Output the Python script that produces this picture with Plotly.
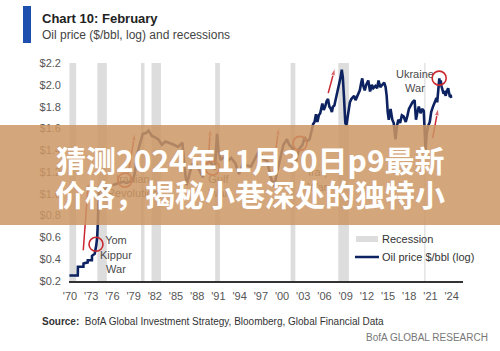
import plotly.graph_objects as go

# ---------------- data ----------------
years = [1969.92, 1971.10, 1971.12, 1971.90, 1971.92, 1972.50, 1972.52, 1973.10, 1973.12, 1973.50,
         1973.70, 1973.85, 1973.95, 1974.05, 1974.20, 1974.60, 1975.00, 1975.50, 1976.00, 1976.50,
         1977.00, 1977.50, 1978.00, 1978.50, 1978.90, 1979.20, 1979.50, 1979.90, 1980.30, 1980.80,
         1981.10, 1981.60, 1982.00, 1982.50, 1983.00, 1983.50, 1984.00, 1984.70, 1985.30, 1985.90,
         1986.20, 1986.50, 1986.90, 1987.30, 1987.80, 1988.30, 1988.80, 1989.20, 1989.80, 1990.30,
         1990.50, 1990.80, 1991.00, 1991.30, 1991.80, 1992.30, 1992.80, 1993.40, 1993.90, 1994.50,
         1995.00, 1995.60, 1996.20, 1996.80, 1997.30, 1997.90, 1998.40, 1998.90, 1999.30, 1999.80,
         2000.20, 2000.70, 2001.00, 2001.50, 2001.90, 2002.40, 2002.90, 2003.20, 2003.50, 2003.90,
         2004.20, 2004.40, 2004.60, 2004.80, 2005.00, 2005.20, 2005.40, 2005.60, 2005.70, 2005.90,
         2006.10, 2006.30, 2006.50, 2006.70, 2006.90, 2007.05, 2007.20, 2007.40, 2007.60, 2007.80,
         2007.95, 2008.10, 2008.25, 2008.45, 2008.60, 2008.75, 2008.95, 2009.10, 2009.25, 2009.45,
         2009.60, 2009.80, 2010.00, 2010.20, 2010.40, 2010.60, 2010.80, 2011.00, 2011.20, 2011.35,
         2011.50, 2011.70, 2011.90, 2012.20, 2012.45, 2012.70, 2012.90, 2013.20, 2013.45, 2013.65,
         2013.90, 2014.15, 2014.45, 2014.65, 2014.80, 2014.95, 2015.10, 2015.35, 2015.60, 2015.80,
         2016.05, 2016.25, 2016.45, 2016.70, 2016.95, 2017.20, 2017.50, 2017.75, 2017.95, 2018.20,
         2018.45, 2018.75, 2018.95, 2019.15, 2019.35, 2019.60, 2019.85, 2020.05, 2020.15, 2020.30,
         2020.45, 2020.65, 2020.90, 2021.10, 2021.35, 2021.60, 2021.85, 2021.95, 2022.10, 2022.25,
         2022.35, 2022.45, 2022.55, 2022.70, 2022.85, 2023.00, 2023.15, 2023.30, 2023.50, 2023.62,
         2023.75, 2023.85, 2023.92]
oil_log = [0.25, 0.25, 0.33, 0.33, 0.36, 0.37, 0.39, 0.39, 0.43, 0.45,
           0.52, 0.60, 0.75, 0.98, 1.06, 1.05, 1.04, 1.06, 1.08, 1.09,
           1.10, 1.11, 1.10, 1.11, 1.12, 1.20, 1.36, 1.46, 1.55, 1.56,
           1.58, 1.53, 1.52, 1.50, 1.45, 1.48, 1.47, 1.45, 1.43, 1.47,
           1.25, 1.08, 1.18, 1.27, 1.28, 1.22, 1.15, 1.27, 1.30, 1.25,
           1.22, 1.55, 1.40, 1.31, 1.34, 1.30, 1.33, 1.28, 1.18, 1.28,
           1.26, 1.25, 1.33, 1.40, 1.32, 1.30, 1.15, 1.07, 1.20, 1.35,
           1.45, 1.50, 1.45, 1.42, 1.28, 1.41, 1.45, 1.52, 1.48, 1.50,
           1.58, 1.64, 1.66, 1.73, 1.66, 1.72, 1.74, 1.80, 1.83, 1.77,
           1.80, 1.85, 1.87, 1.80, 1.78, 1.75, 1.80, 1.81, 1.87, 1.92,
           1.97, 1.99, 2.06, 2.14, 2.07, 1.90, 1.65, 1.63, 1.69, 1.80,
           1.84, 1.87, 1.89, 1.90, 1.86, 1.89, 1.92, 1.95, 2.02, 2.06,
           1.99, 1.95, 2.00, 2.04, 1.94, 2.00, 1.97, 1.99, 1.97, 2.04,
           1.98, 2.00, 2.02, 1.98, 1.90, 1.75, 1.68, 1.78, 1.68, 1.65,
           1.50, 1.62, 1.68, 1.65, 1.72, 1.71, 1.66, 1.72, 1.78, 1.81,
           1.84, 1.86, 1.68, 1.75, 1.80, 1.74, 1.78, 1.76, 1.62, 1.40,
           1.55, 1.62, 1.66, 1.75, 1.80, 1.85, 1.88, 1.84, 1.95, 2.06,
           2.00, 2.04, 1.99, 1.95, 1.92, 1.93, 1.90, 1.94, 1.97, 1.93,
           1.89, 1.91, 1.88]

recession_start = [1969.92, 1973.87, 1980.04, 1981.54, 1990.54, 2001.21, 2007.96, 2020.12]
recession_end = [1970.87, 1975.21, 1980.54, 1982.87, 1991.21, 2001.88, 2009.46, 2020.29]

x_tick_years = [1970, 1973, 1976, 1979, 1982, 1985, 1988, 1991, 1994, 1997,
                2000, 2003, 2006, 2009, 2012, 2015, 2018, 2021, 2024]
x_tick_text = ["'70", "'73", "'76", "'79", "'82", "'85", "'88", "'91", "'94", "'97",
               "'00", "'03", "'06", "'09", "'12", "'15", "'18", "'21", "'24"]
y_tick_vals = [0.2, 0.4, 0.6, 0.8, 1.0, 1.2, 1.4, 1.6, 1.8, 2.0, 2.2]
y_tick_text = ["$0.2", "$0.4", "$0.6", "$0.8", "$1.0", "$1.2", "$1.4", "$1.6", "$1.8", "$2.0", "$2.2"]

# event markers (circles)
event_circle_x = [1973.68, 1977.78, 1990.16, 2002.53, 2022.23]
event_circle_y = [0.536, 1.125, 1.236, 1.463, 2.062]
# event labels
event_labels = ["Yom<br>Kippur<br>War", "Iranian<br>Revolution", "Gulf<br>War", "Iraq<br>War", "Ukraine<br>War"]
event_label_x = [1976.5, 1978.9, 1991.0, 2005.0, 2018.8]
event_label_y = [0.43, 1.06, 1.06, 1.12, 2.025]
# red arrows (tail -> head)
arrow_x0 = [1971.88, 1978.25, 1989.66, 1999.15, 2006.53, 2021.30]
arrow_y0 = [0.481, 1.19, 1.40, 1.42, 1.924, 1.51]
arrow_x1 = [1972.59, 1979.19, 1989.87, 1999.55, 2007.48, 2022.09]
arrow_y1 = [1.107, 1.558, 1.60, 1.61, 2.154, 1.786]

# ---------------- layout helpers ----------------
W, H = 500, 351
L, R, T, B = 69, 37, 63, 70
PW, PH = W - L - R, H - T - B


def px_x(p):
    return (p - L) / PW


def px_y(p):
    return (H - B - p) / PH


FONT = "Liberation Sans, Arial, sans-serif"
NAVY = "#0d2260"
RED = "#c8282e"

fig = go.Figure()

# oil price line
fig.add_trace(go.Scatter(x=years, y=oil_log, mode="lines",
                         line=dict(color=NAVY, width=2.6), hoverinfo="skip",
                         showlegend=False))

# arrows
for xa, ya, xb, yb in zip(arrow_x0, arrow_y0, arrow_x1, arrow_y1):
    fig.add_trace(go.Scatter(x=[xa, xb], y=[ya, yb], mode="lines+markers",
                             line=dict(color=RED, width=1.5),
                             marker=dict(symbol=["circle", "arrow"], size=[0, 8],
                                         color=RED, angleref="previous"),
                             hoverinfo="skip", showlegend=False))

# event labels
fig.add_trace(go.Scatter(x=event_label_x, y=event_label_y, mode="text",
                         text=event_labels,
                         textfont=dict(family=FONT, size=11, color="#4a4a4a"),
                         hoverinfo="skip", showlegend=False))

shapes = []
for s, e in zip(recession_start, recession_end):
    shapes.append(dict(type="rect", xref="x", yref="y", x0=s, x1=e, y0=0.2, y1=2.2,
                       fillcolor="#dddddd", line=dict(width=0), layer="below"))
for cx, cy in zip(event_circle_x, event_circle_y):
    shapes.append(dict(type="circle", xref="x", yref="y", xsizemode="pixel", ysizemode="pixel",
                       xanchor=cx, yanchor=cy, x0=-7, x1=7, y0=-7, y1=7,
                       line=dict(color=RED, width=1.6), layer="above"))

# legend
shapes.append(dict(type="rect", xref="paper", yref="paper", x0=px_x(356), x1=px_x(378),
                   y0=px_y(242), y1=px_y(236), fillcolor="#dddddd", line=dict(width=0)))
shapes.append(dict(type="line", xref="paper", yref="paper", x0=px_x(355), x1=px_x(379),
                   y0=px_y(257), y1=px_y(257), line=dict(color=NAVY, width=2.5)))
# title bar
shapes.append(dict(type="rect", xref="paper", yref="paper", x0=px_x(23), x1=px_x(31),
                   y0=px_y(43), y1=px_y(6), fillcolor="#1d4fae", line=dict(width=0)))
# banner overlay
shapes.append(dict(type="rect", xref="paper", yref="paper", x0=px_x(-2), x1=px_x(502),
                   y0=px_y(225), y1=px_y(125), fillcolor="rgba(205,150,100,0.85)",
                   line=dict(width=0), layer="above"))

annotations = [
    dict(text="<b>Chart 10: February</b>", x=px_x(40), y=px_y(18), xref="paper", yref="paper",
         xanchor="left", yanchor="middle", showarrow=False,
         font=dict(family=FONT, size=13, color="#222222")),
    dict(text="Oil price ($/bbl, log) and recessions", x=px_x(40), y=px_y(35), xref="paper",
         yref="paper", xanchor="left", yanchor="middle", showarrow=False,
         font=dict(family=FONT, size=12, color="#444444")),
    dict(text="Recession", x=px_x(380), y=px_y(239), xref="paper", yref="paper",
         xanchor="left", yanchor="middle", showarrow=False,
         font=dict(family=FONT, size=11, color="#333333")),
    dict(text="Oil price $/bbl (log)", x=px_x(380), y=px_y(257), xref="paper", yref="paper",
         xanchor="left", yanchor="middle", showarrow=False,
         font=dict(family=FONT, size=11, color="#333333")),
    dict(text="<b>Source:</b>  BofA Global Investment Strategy, Bloomberg, Global Financial Data",
         x=px_x(40), y=px_y(321), xref="paper", yref="paper", xanchor="left", yanchor="middle",
         showarrow=False, font=dict(family=FONT, size=10, color="#333333")),
    dict(text="BofA GLOBAL RESEARCH", x=px_x(490), y=px_y(337), xref="paper", yref="paper",
         xanchor="right", yanchor="middle", showarrow=False,
         font=dict(family=FONT, size=10, color="#777777")),
    dict(text="<b>猜测2024年11月30日p9最新</b>", x=px_x(250), y=px_y(159), xref="paper",
         yref="paper", xanchor="center", yanchor="middle", showarrow=False,
         font=dict(family="Noto Sans CJK SC", size=30, color="#ffffff")),
    dict(text="<b>价格，揭秘小巷深处的独特小</b>", x=px_x(250), y=px_y(193), xref="paper",
         yref="paper", xanchor="center", yanchor="middle", showarrow=False,
         font=dict(family="Noto Sans CJK SC", size=30, color="#ffffff")),
]

fig.update_layout(
    width=W, height=H,
    margin=dict(l=L, r=R, t=T, b=B, pad=0),
    paper_bgcolor="white", plot_bgcolor="white",
    shapes=shapes, annotations=annotations,
    showlegend=False,
    xaxis=dict(range=[1969.86, 2025.6], tickvals=x_tick_years, ticktext=x_tick_text,
               showgrid=False, zeroline=False, showline=True, linecolor="#333333", linewidth=1.5,
               ticks="", ticklabelstandoff=4,
               tickfont=dict(family=FONT, size=11, color="#555555"), fixedrange=True),
    yaxis=dict(range=[0.199, 2.201], tickvals=y_tick_vals, ticktext=y_tick_text,
               showgrid=False, zeroline=False, showline=False, ticks="", ticklabelstandoff=7,
               tickfont=dict(family=FONT, size=11, color="#555555"), fixedrange=True),
)

fig.write_html("out.html")
